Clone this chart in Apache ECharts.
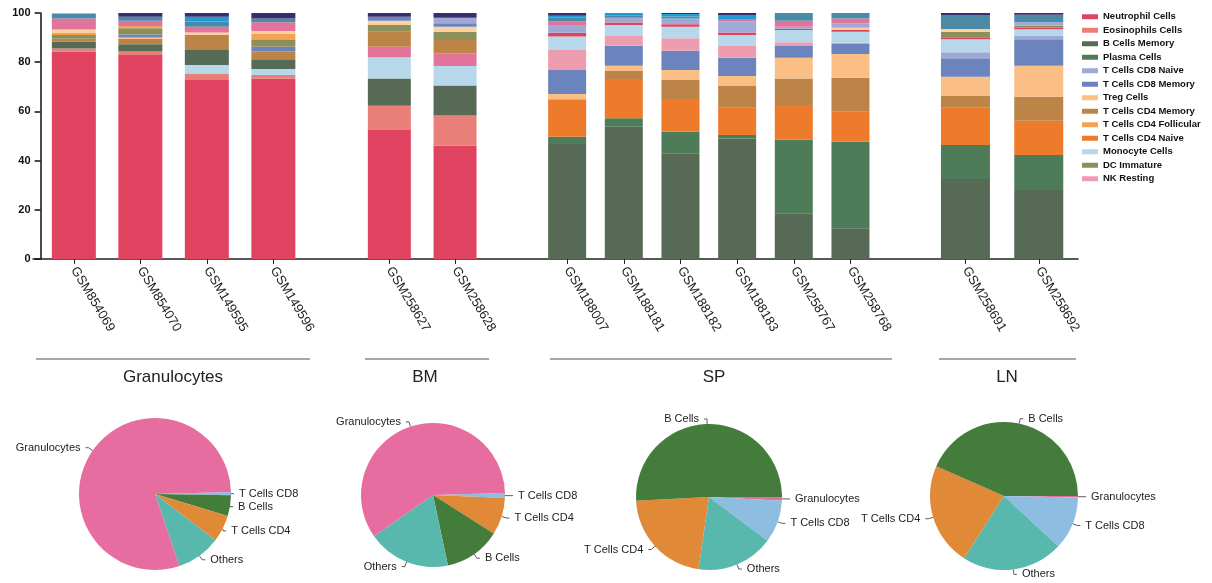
<!DOCTYPE html>
<html>
<head>
<meta charset="utf-8">
<script src="https://cdn.jsdelivr.net/npm/echarts@6/dist/echarts.min.js"></script>
<style>
  html, body { margin: 0; padding: 0; background: #fff; }
  #main { width: 1212px; height: 583px; }
</style>
</head>
<body>
<div id="main"></div>
<script>
(function () {
'use strict';

var FONT = 'Liberation Sans, Arial, sans-serif';
var NARROW = 'Liberation Sans Narrow, Arial Narrow, Liberation Sans, sans-serif';

// samples, in plotting order
var samples = ['GSM854069', 'GSM854070', 'GSM149595', 'GSM149596',
    'GSM258627', 'GSM258628',
    'GSM188007', 'GSM188181', 'GSM188182', 'GSM188183', 'GSM258767', 'GSM258768',
    'GSM258691', 'GSM258692'];
var groupNames = ['Granulocytes', 'BM', 'SP', 'LN'];
var groupSizes = [4, 2, 6, 2];

// stacked layers, bottom to top (percent)
var neutrophil   = [84.3, 82.9, 72.8, 73.4, 52.4, 46.1, 0, 0, 0, 0, 0, 0, 0, 0];
var eosinophils  = [1.3, 1.4, 2.4, 1.4, 9.9, 12.2, 0, 0, 0, 0, 0, 0, 0, 0];
var monocyteLow  = [0, 0, 3.7, 2.4, 0, 0, 0, 0, 0, 0, 0, 0, 0, 0];
var bMemory      = [2.7, 3.0, 6.1, 4.0, 11.1, 12.2, 46.7, 53.8, 43.0, 49.0, 18.6, 12.5, 32.5, 28.0];
var plasma       = [0, 0, 0, 0, 0, 0, 3.0, 3.4, 8.7, 1.4, 30.0, 35.2, 13.8, 14.3];
var cd4Naive     = [0, 0, 0, 0, 0, 0, 15.2, 16.0, 13.3, 11.1, 14.0, 12.2, 15.2, 13.9];
var monocyteMid  = [0, 0, 0, 0, 8.6, 8.0, 0, 0, 0, 0, 0, 0, 0, 0];
var mastRestMid  = [0, 0, 0, 0, 4.3, 5.1, 0, 0, 0, 0, 0, 0, 0, 0];
var cd4Memory    = [1.2, 2.1, 6.1, 3.1, 6.1, 5.4, 0, 3.2, 8.0, 9.0, 10.8, 13.8, 4.8, 9.8];
var treg         = [0, 0.6, 0, 0, 0, 0, 2.2, 2.2, 3.8, 3.9, 8.4, 9.6, 7.8, 12.6];
var cd8Memory    = [0, 1.3, 0, 2.0, 0, 0, 9.7, 8.1, 7.9, 7.4, 4.8, 4.1, 7.5, 10.7];
var cd8Naive     = [0, 0, 0, 0, 0, 0, 0, 0, 0, 0, 0, 0, 2.4, 1.4];
var nkResting    = [0, 0, 0, 0, 0, 0, 8.2, 4.0, 5.0, 4.8, 1.5, 0.5, 0, 0];
var monocyte     = [0, 0, 0, 0, 0, 0, 5.4, 4.4, 4.7, 4.5, 5.0, 4.5, 5.3, 2.7];
var mastActive   = [0, 0, 0, 0, 0, 0, 1.6, 1.0, 1.0, 1.0, 0.5, 0.8, 0.8, 0.6];
var dcImmature   = [1.6, 2.5, 0, 2.7, 2.7, 3.4, 0, 0, 0, 0, 0, 0, 2.3, 0.8];
var cd4Follic    = [0.8, 0.9, 0, 2.7, 0, 0, 0, 0, 0, 0, 0, 0, 0, 0];
var tregPale     = [1.4, 0, 1.0, 1.0, 1.8, 2.0, 0, 0, 0, 0, 0, 0.8, 1.1, 0];
var cd8MemTop    = [0, 0, 0, 0, 1.6, 1.4, 0, 0, 0, 0, 0, 0, 0, 0];
var cd8NaiveTop  = [0, 0, 0, 0, 0, 2.3, 3.1, 2.0, 2.4, 4.4, 0.8, 1.8, 0, 1.4];
var mastResting  = [4.5, 2.2, 2.3, 3.5, 0, 0, 1.5, 0, 0, 1.1, 2.5, 2.0, 0, 0];
var macroM2      = [2.0, 1.6, 2.1, 1.6, 0, 0, 1.5, 1.0, 0.8, 0, 3.1, 2.2, 5.5, 3.1];
var macroM1      = [0, 0, 2.0, 0, 0, 0, 0.8, 0.9, 1.0, 1.6, 0, 0, 0, 0];
var macroM0      = [0, 1.5, 1.5, 2.2, 1.5, 1.9, 1.1, 0, 0.4, 0.8, 0, 0, 1.0, 0.7];

var layers = [neutrophil, eosinophils, monocyteLow, bMemory, plasma, cd4Naive,
    monocyteMid, mastRestMid, cd4Memory, treg, cd8Memory, cd8Naive, nkResting,
    monocyte, mastActive, dcImmature, cd4Follic, tregPale, cd8MemTop, cd8NaiveTop,
    mastResting, macroM2, macroM1, macroM0];
var layerNames = ['Neutrophil Cells', 'Eosinophils Cells', 'Monocyte Cells', 'B Cells Memory',
    'Plasma Cells', 'T Cells CD4 Naive', 'Monocyte Cells', 'Mast Cells Resting',
    'T Cells CD4 Memory', 'Treg Cells', 'T Cells CD8 Memory', 'T Cells CD8 Naive',
    'NK Resting', 'Monocyte Cells', 'Mast Cells Activated', 'DC Immature',
    'T Cells CD4 Follicular', 'Treg Cells', 'T Cells CD8 Memory', 'T Cells CD8 Naive',
    'Mast Cells Resting', 'Macrophages M2', 'Macrophages M1', 'Macrophages M0'];
var layerColors = ['#e0435f', '#e88079', '#b7d7ea', '#576a56',
    '#4e7b58', '#ee7a2b', '#b7d7ea', '#e2739a',
    '#bc8447', '#fbbe84', '#6b84bd', '#9fa9d6',
    '#ee9db0', '#b7d7ea', '#e0435f', '#8d8f5a',
    '#f4a354', '#f9d29e', '#6b84bd', '#9fa9d6',
    '#e2739a', '#4b8aa6', '#1e9cd6', '#3a2d6e'];

var legendNames = ['Neutrophil Cells', 'Eosinophils Cells', 'B Cells Memory', 'Plasma Cells',
    'T Cells CD8 Naive', 'T Cells CD8 Memory', 'Treg Cells', 'T Cells CD4 Memory',
    'T Cells CD4 Follicular', 'T Cells CD4 Naive', 'Monocyte Cells', 'DC Immature', 'NK Resting'];

// pies, one per tissue, slices in clockwise order
var pieGranNames = ['T Cells CD8', 'B Cells', 'T Cells CD4', 'Others', 'Granulocytes'];
var pieGranValues = [0.7, 4.4, 5.7, 9.4, 79.8];
var pieBMNames = ['T Cells CD8', 'T Cells CD4', 'B Cells', 'Others', 'Granulocytes'];
var pieBMValues = [1.1, 8.3, 12.7, 18.6, 59.3];
var pieSPNames = ['Granulocytes', 'T Cells CD8', 'Others', 'T Cells CD4', 'B Cells'];
var pieSPValues = [0.8, 9.4, 17.1, 21.9, 50.8];
var pieLNNames = ['Granulocytes', 'T Cells CD8', 'Others', 'T Cells CD4', 'B Cells'];
var pieLNValues = [0.3, 11.6, 22.2, 22.5, 43.4];

var pieColors = {
    'Granulocytes': '#e76ca0',
    'B Cells': '#447d3b',
    'T Cells CD4': '#e08a37',
    'Others': '#59b8ae',
    'T Cells CD8': '#8dbde0'
};

var panels = [
    {left: 40.6, width: 266, barWidth: 44},
    {left: 356.5, width: 131.4, barWidth: 43},
    {left: 538.8, width: 340, barWidth: 38},
    {left: 928.8, width: 146.6, barWidth: 49}
];

var grids = [], xAxes = [], yAxes = [], series = [];
var start = 0;
panels.forEach(function (p, gi) {
    var n = groupSizes[gi];
    grids.push({left: p.left, width: p.width, top: 13, height: 246, outerBoundsMode: 'none'});
    xAxes.push({
        type: 'category', gridIndex: gi, data: samples.slice(start, start + n),
        axisLine: {show: false},
        axisTick: {show: true, alignWithLabel: true, length: 5, lineStyle: {color: '#222', width: 1}},
        axisLabel: {rotate: -59, margin: 9, interval: 0, fontSize: 13, color: '#222', fontFamily: FONT},
        splitLine: {show: false}
    });
    yAxes.push({
        type: 'value', gridIndex: gi, min: 0, max: 100, interval: 20, show: gi === 0,
        axisLine: {show: true, lineStyle: {color: '#111', width: 1.5}},
        axisTick: {show: true, length: 6, lineStyle: {color: '#111', width: 1.5}},
        axisLabel: {fontSize: 11, fontWeight: 'bold', color: '#111', fontFamily: FONT, margin: 10},
        splitLine: {show: false}
    });
    layers.forEach(function (vals, li) {
        series.push({
            type: 'bar', name: layerNames[li], xAxisIndex: gi, yAxisIndex: gi,
            stack: 'panel' + gi, barWidth: p.barWidth,
            data: vals.slice(start, start + n),
            itemStyle: {color: layerColors[li]},
            emphasis: {disabled: true}
        });
    });
    start += n;
});

// one long baseline under all panels
grids.push({left: 33, width: 1045, top: 13, height: 246, outerBoundsMode: 'none'});
xAxes.push({type: 'value', gridIndex: 4, min: 0, max: 1,
    axisLine: {show: true, lineStyle: {color: '#222', width: 1.5}},
    axisTick: {show: false}, axisLabel: {show: false}, splitLine: {show: false}});
yAxes.push({type: 'value', gridIndex: 4, min: 0, max: 100, show: false});

function pieSeries(names, values, center, radius, startAngle) {
    return {
        type: 'pie', center: center, radius: radius, startAngle: startAngle, clockwise: true,
        data: names.map(function (nm, i) {
            return {name: nm, value: values[i], itemStyle: {color: pieColors[nm]}};
        }),
        label: {show: true, formatter: '{b}', fontSize: 11, color: '#222', fontFamily: FONT},
        labelLine: {show: true, length: 5, length2: 3, lineStyle: {color: '#333', width: 0.8}},
        emphasis: {disabled: true}
    };
}
series.push(pieSeries(pieGranNames, pieGranValues, [155, 494], 76, 1.5));
series.push(pieSeries(pieBMNames, pieBMValues, [433, 495], 72, 1.5));
series.push(pieSeries(pieSPNames, pieSPValues, [709, 497], 73, 0));
series.push(pieSeries(pieLNNames, pieLNValues, [1004, 496], 74, 0));

// group brackets under the x labels
var brackets = [[36, 310], [365, 489], [550, 892], [939, 1076]];
var graphics = [];
brackets.forEach(function (b, i) {
    graphics.push({type: 'line', shape: {x1: b[0], y1: 359, x2: b[1], y2: 359},
        style: {stroke: '#8a8a8a', lineWidth: 1.3}, silent: true});
});
var labelX = [173, 425, 714, 1007];
groupNames.forEach(function (g, i) {
    graphics.push({type: 'text', x: labelX[i], y: 377, silent: true,
        style: {text: g, fill: '#222', font: '17px ' + FONT,
            align: 'center', verticalAlign: 'middle',
            textAlign: 'center', textVerticalAlign: 'middle'}});
});

var chart = echarts.init(document.getElementById('main'));
chart.setOption({
    animation: false,
    backgroundColor: '#fff',
    legend: {
        data: legendNames, orient: 'vertical', left: 1082, top: 11, padding: 0,
        icon: 'rect', itemWidth: 16, itemHeight: 5, itemGap: 2,
        textStyle: {fontSize: 9.5, fontWeight: 'bold', color: '#111', fontFamily: NARROW, lineHeight: 11.5}
    },
    grid: grids,
    xAxis: xAxes,
    yAxis: yAxes,
    series: series,
    graphic: graphics
});
})();
</script>
</body>
</html>
